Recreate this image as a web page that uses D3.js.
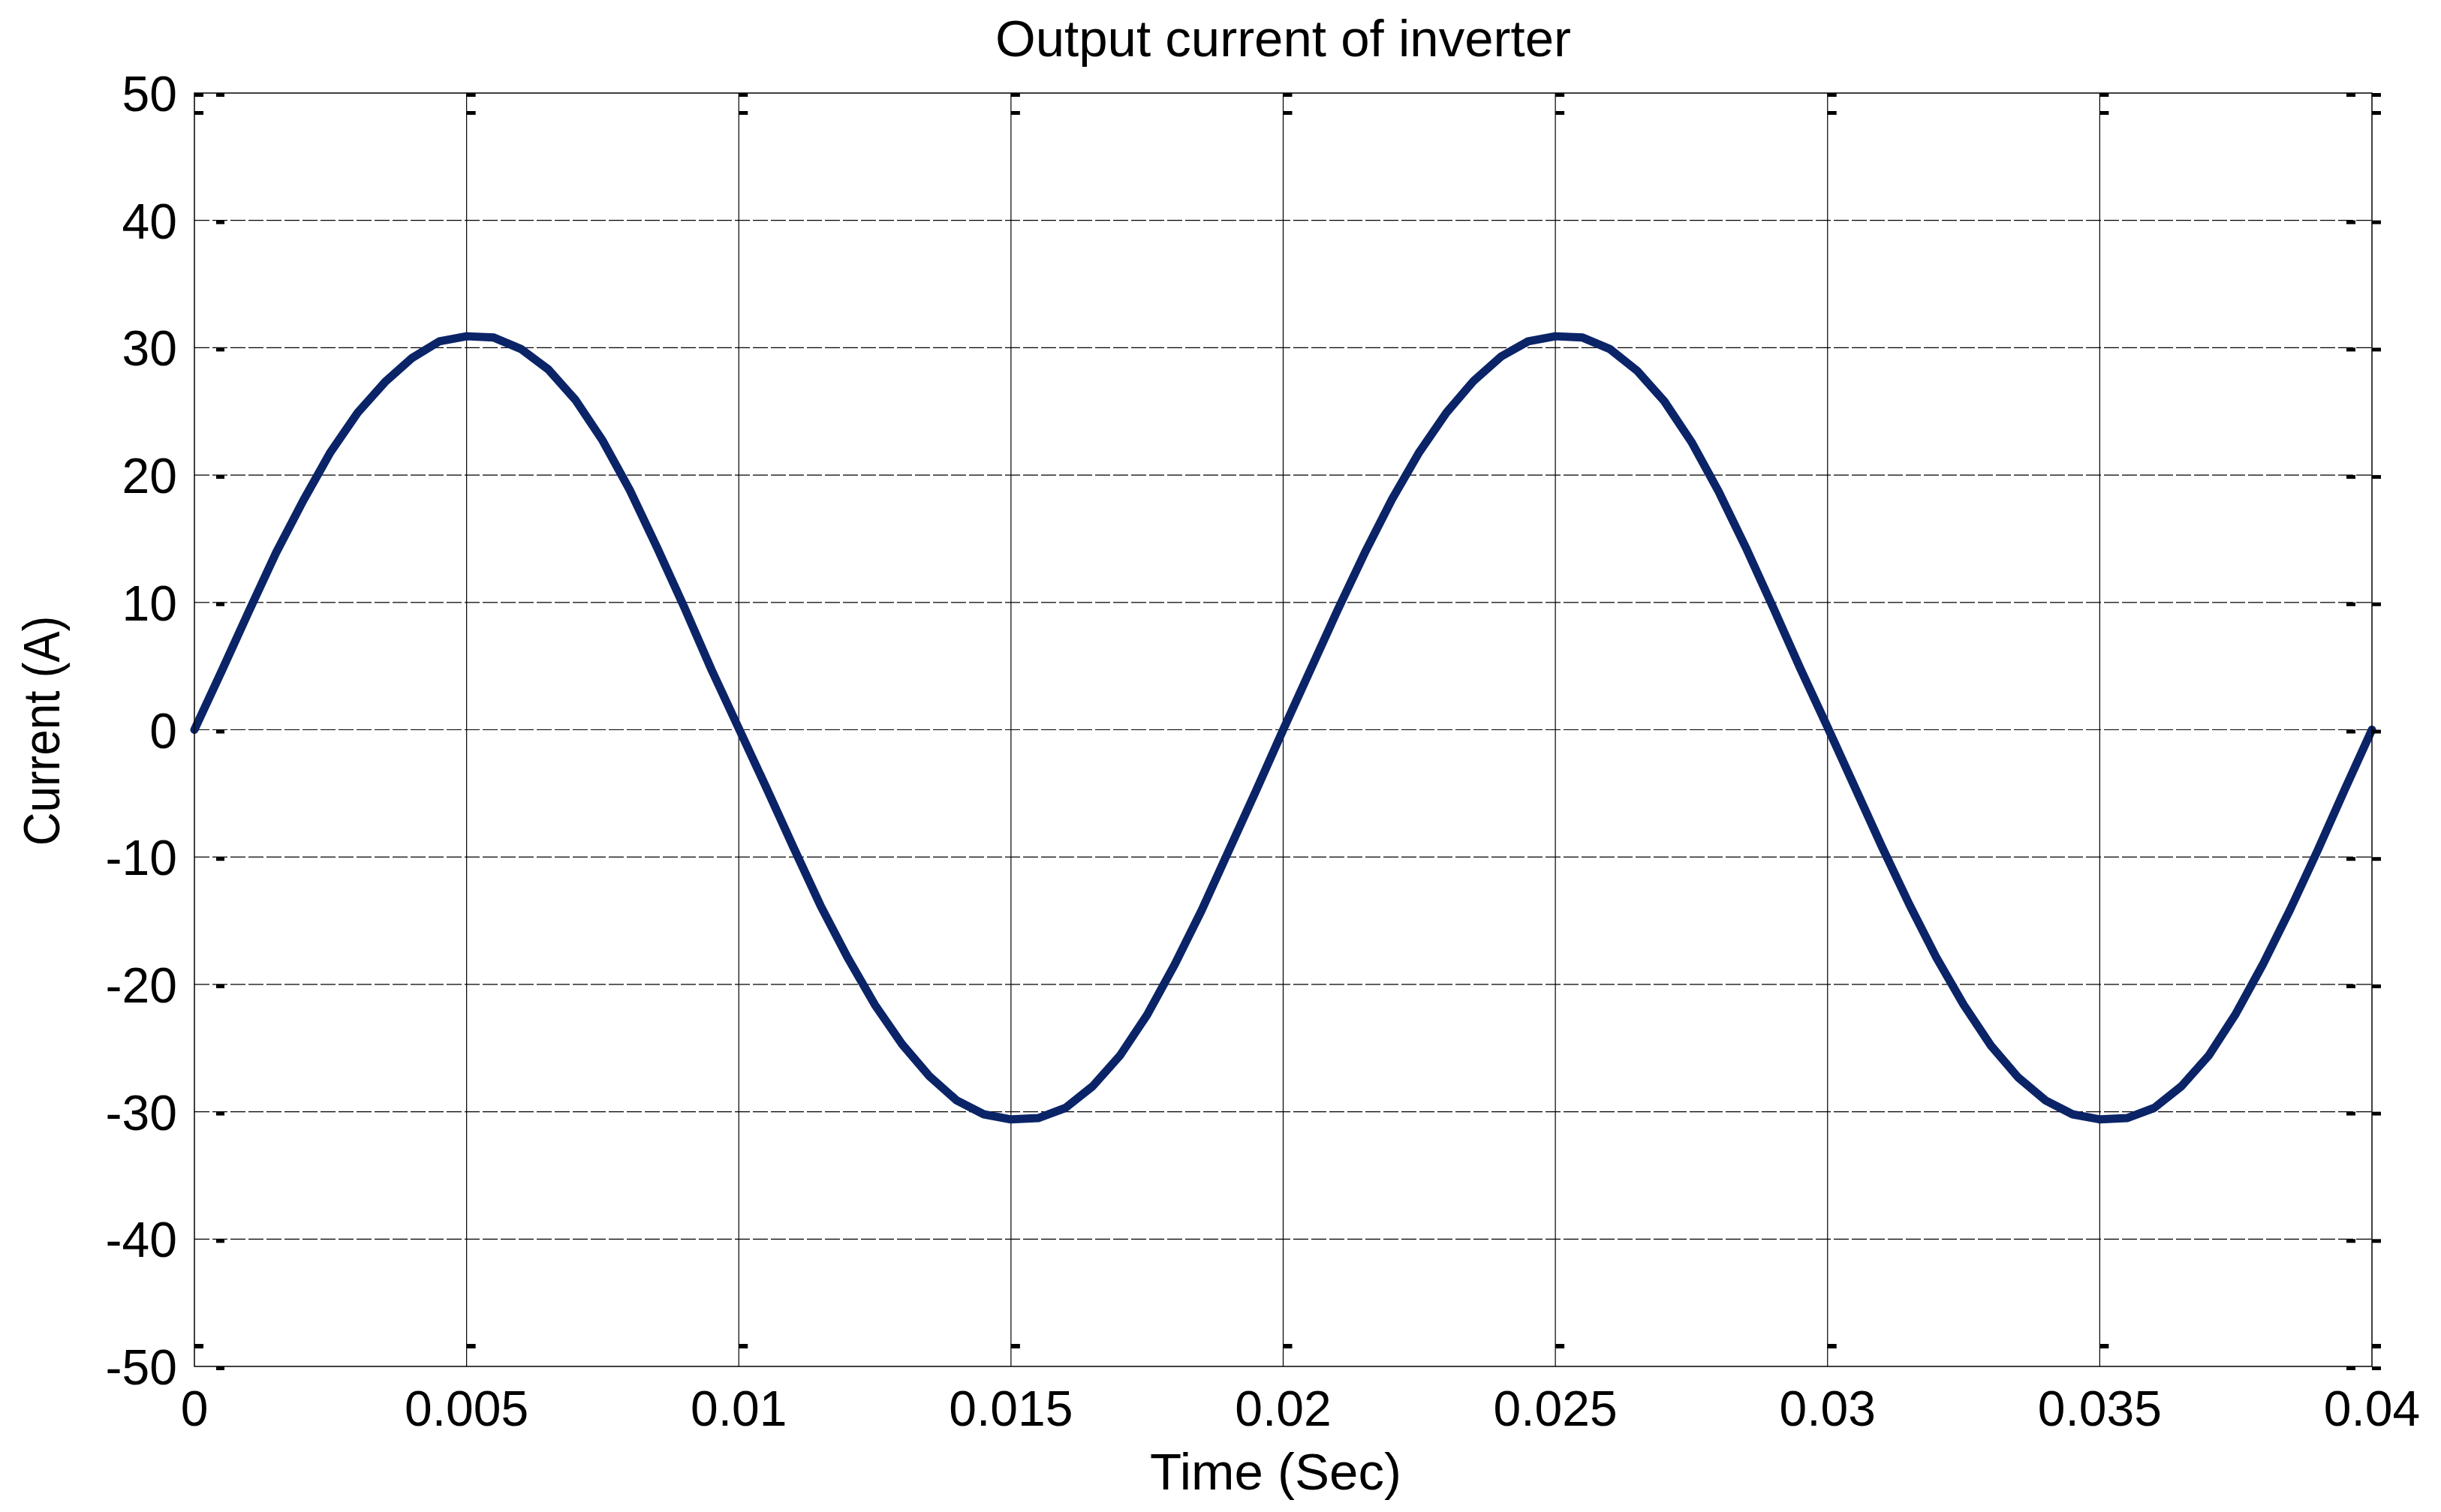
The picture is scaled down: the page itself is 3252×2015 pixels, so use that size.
<!DOCTYPE html>
<html>
<head>
<meta charset="utf-8">
<script src="https://cdn.jsdelivr.net/npm/d3@7"></script>
<style>
body { margin: 0; background: #fff; }
text { font-family: "Liberation Sans", Arial, sans-serif; fill: #000; }
</style>
</head>
<body>
<svg id="chart" width="3252" height="2015"></svg>
<script>
// time samples (s) and the inverter current (A)
var time = [0, 0.0005, 0.001, 0.0015, 0.002, 0.0025, 0.003, 0.0035, 0.004, 0.0045,
	0.005, 0.0055, 0.006, 0.0065, 0.007, 0.0075, 0.008, 0.0085, 0.009, 0.0095,
	0.01, 0.0105, 0.011, 0.0115, 0.012, 0.0125, 0.013, 0.0135, 0.014, 0.0145,
	0.015, 0.0155, 0.016, 0.0165, 0.017, 0.0175, 0.018, 0.0185, 0.019, 0.0195,
	0.02, 0.0205, 0.021, 0.0215, 0.022, 0.0225, 0.023, 0.0235, 0.024, 0.0245,
	0.025, 0.0255, 0.026, 0.0265, 0.027, 0.0275, 0.028, 0.0285, 0.029, 0.0295,
	0.03, 0.0305, 0.031, 0.0315, 0.032, 0.0325, 0.033, 0.0335, 0.034, 0.0345,
	0.035, 0.0355, 0.036, 0.0365, 0.037, 0.0375, 0.038, 0.0385, 0.039, 0.0395, 0.04];
var current = [0, 4.6, 9.3, 13.9, 18.0, 21.8, 24.9, 27.3, 29.2, 30.5,
	30.9, 30.8, 29.9, 28.3, 25.9, 22.7, 18.8, 14.3, 9.6, 4.7,
	0.1, -4.5, -9.2, -13.8, -17.9, -21.6, -24.7, -27.2, -29.1, -30.2,
	-30.6, -30.5, -29.7, -28.0, -25.6, -22.4, -18.5, -14.2, -9.5, -4.8,
	0, 4.7, 9.4, 13.9, 18.1, 21.8, 24.9, 27.4, 29.3, 30.5,
	30.9, 30.8, 29.9, 28.2, 25.8, 22.6, 18.7, 14.3, 9.6, 4.8,
	0.2, -4.5, -9.2, -13.7, -17.9, -21.6, -24.8, -27.3, -29.1, -30.2,
	-30.6, -30.5, -29.7, -28.0, -25.6, -22.3, -18.4, -14.1, -9.5, -4.7, 0];

var xTicks = [0, 0.005, 0.01, 0.015, 0.02, 0.025, 0.03, 0.035, 0.04];
var xTickLabels = ["0", "0.005", "0.01", "0.015", "0.02", "0.025", "0.03", "0.035", "0.04"];
var yTicks = [-50, -40, -30, -20, -10, 0, 10, 20, 30, 40, 50];
var yTickLabels = ["-50", "-40", "-30", "-20", "-10", "0", "10", "20", "30", "40", "50"];

var svg = d3.select("#chart");
// plot box (window.top is reserved, so use other names)
var pLeft = 259, pRight = 3160, pTop = 124, pBottom = 1821;
var fontSize = 66;

var x = d3.scaleLinear().domain([0, 0.04]).range([pLeft, pRight]);
var y = d3.scaleLinear().domain([-50, 50]).range([pBottom, pTop]);

var data = time.map(function(t, i){ return {t: t, v: current[i]}; });

// grid lines
svg.append("g")
	.selectAll("line")
	.data(xTicks.slice(1, -1))
	.enter().append("line")
	.attr("x1", function(d){ return x(d); })
	.attr("x2", function(d){ return x(d); })
	.attr("y1", pTop).attr("y2", pBottom)
	.attr("stroke", "#000").attr("stroke-width", 1.2);
svg.append("g")
	.selectAll("line")
	.data(yTicks.slice(1, -1))
	.enter().append("line")
	.attr("x1", pLeft).attr("x2", pRight)
	.attr("y1", function(d){ return y(d); })
	.attr("y2", function(d){ return y(d); })
	.attr("stroke", "#000").attr("stroke-width", 1.2)
	.attr("stroke-dasharray", "20,4");

// the current waveform
svg.append("path")
	.datum(data)
	.attr("fill", "none")
	.attr("stroke", "#0b2468")
	.attr("stroke-width", 11)
	.attr("stroke-linejoin", "round")
	.attr("stroke-linecap", "round")
	.attr("d", d3.line()
		.x(function(d){ return x(d.t); })
		.y(function(d){ return y(d.v); }));

// frame
svg.append("rect")
	.attr("x", pLeft).attr("y", pTop)
	.attr("width", pRight - pLeft).attr("height", pBottom - pTop)
	.attr("fill", "none").attr("stroke", "#000").attr("stroke-width", 1.5);

// little tick marks (drawn like the original: small dashes)
var marks = svg.append("g").attr("fill", "#000");
marks.selectAll(".xt1").data(xTicks).enter().append("rect")
	.attr("x", function(d){ return x(d); }).attr("y", pTop)
	.attr("width", 12).attr("height", 5);
marks.selectAll(".xt2").data(xTicks).enter().append("rect")
	.attr("x", function(d){ return x(d); }).attr("y", pTop + 24)
	.attr("width", 12).attr("height", 5);
marks.selectAll(".xb").data(xTicks).enter().append("rect")
	.attr("x", function(d){ return x(d); }).attr("y", pBottom - 30)
	.attr("width", 12).attr("height", 6);
marks.selectAll(".yl").data(yTicks).enter().append("rect")
	.attr("x", pLeft + 29).attr("y", function(d){ return y(d); })
	.attr("width", 11).attr("height", 5);
marks.selectAll(".yr1").data(yTicks).enter().append("rect")
	.attr("x", pRight - 34).attr("y", function(d){ return y(d); })
	.attr("width", 12).attr("height", 5);
marks.selectAll(".yr2").data(yTicks).enter().append("rect")
	.attr("x", pRight).attr("y", function(d){ return y(d); })
	.attr("width", 12).attr("height", 5);

// tick labels
svg.append("g")
	.selectAll("text")
	.data(xTicks)
	.enter().append("text")
	.attr("x", function(d){ return x(d); })
	.attr("y", pBottom + 79)
	.attr("text-anchor", "middle")
	.style("font-size", fontSize + "px")
	.text(function(d, i){ return xTickLabels[i]; });
svg.append("g")
	.selectAll("text")
	.data(yTicks)
	.enter().append("text")
	.attr("x", pLeft - 23)
	.attr("y", function(d){ return y(d) + 24; })
	.attr("text-anchor", "end")
	.style("font-size", fontSize + "px")
	.text(function(d, i){ return yTickLabels[i]; });

// titles
svg.append("text")
	.attr("x", (pLeft + pRight) / 2).attr("y", 75)
	.attr("text-anchor", "middle")
	.style("font-size", "69px")
	.text("Output current of inverter");
svg.append("text")
	.attr("x", (pLeft + pRight) / 2 - 10).attr("y", 1985)
	.attr("text-anchor", "middle")
	.style("font-size", "69px")
	.text("Time (Sec)");
svg.append("text")
	.attr("transform", "translate(79,974) scale(1.12,1) rotate(-90)")
	.attr("text-anchor", "middle")
	.style("font-size", "62px")
	.text("Current (A)");
</script>
</body>
</html>
